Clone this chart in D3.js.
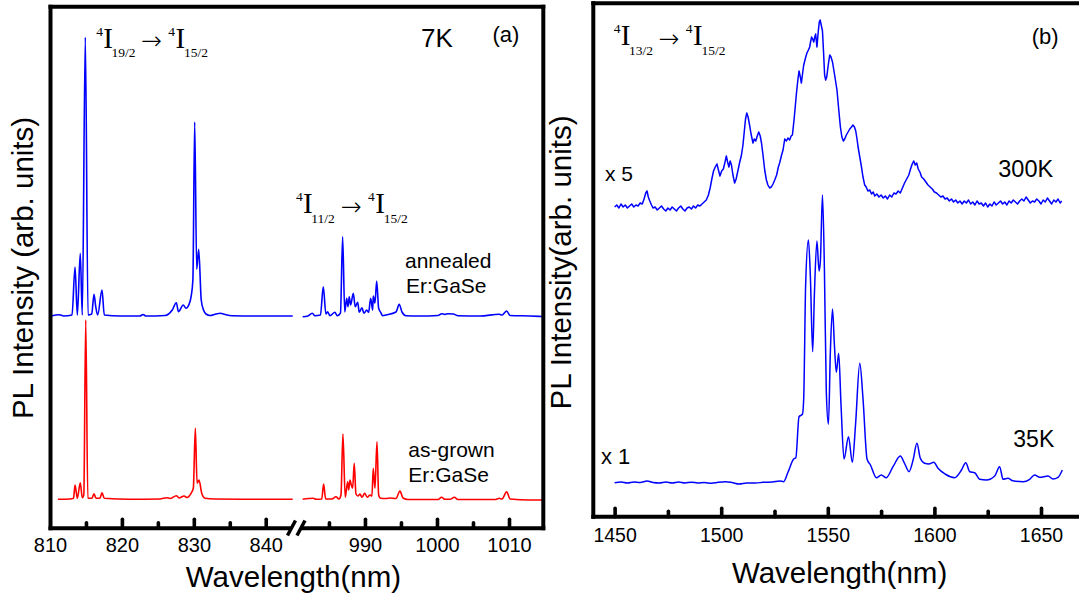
<!DOCTYPE html>
<html><head><meta charset="utf-8">
<script src="https://cdn.jsdelivr.net/npm/d3@7"></script>
<style>body{margin:0;background:#fff}svg{display:block}</style>
</head><body><svg id="c" width="1079" height="600"></svg>
<script>
// ---------- Panel (a) data: [wavelength nm, intensity arb.] ----------
const annealedLeft = [[810.14,212],[811.28,213.3],[811.9,212],[813.06,213],[813.48,261],[813.8,213],[814.21,274.7],[814.49,213],[814.91,490.7],[815.29,213],[815.8,214],[816.12,233.7],[816.36,221.3],[816.63,213],[817.23,238],[817.55,213],[819.74,212],[822.5,212],[822.93,213.5],[823.35,212],[826,212.5],[827.0,218],[827.57,225.3],[827.86,216.3],[828.53,223],[828.92,219.7],[829.29,223],[829.62,231.3],[829.87,248],[830.12,406],[830.4,258.7],[830.68,278.7],[831.03,228],[831.35,218],[831.7,214],[832.25,212.5],[833.09,214],[833.7,214.7],[834.34,213.5],[835.3,212.3],[839.2,212],[843.75,212]];
const annealedRight = [[981.35,211.3],[982.08,212],[982.68,214.7],[983.06,212.3],[983.82,213],[984.21,241.3],[984.58,214],[984.82,216.3],[985.14,212.3],[985.83,215.7],[986.15,212.3],[986.6,215],[986.9,291.3],[987.19,216],[987.46,229.7],[987.64,221.3],[987.82,231.3],[988.01,223],[988.38,234.7],[988.65,221.3],[988.99,225.7],[989.21,215.7],[989.58,220.3],[989.86,214.7],[990.24,218],[990.51,215.7],[990.79,229.7],[991.07,218],[991.15,232],[991.39,225],[991.63,247],[991.9,219.7],[992.18,215.7],[992.46,212.3],[992.92,213],[994.31,216],[994.76,223.7],[995.14,216],[995.69,212.3],[997.64,212],[1000.14,212.5],[1000.65,214.3],[1001.1,213.5],[1001.53,214.3],[1002.26,214],[1002.92,212.3],[1005.97,212],[1008.65,213.7],[1009.03,213],[1009.68,217],[1010.14,212.5],[1012.92,212],[1014.72,211.5]];
const asGrownLeft = [[811.1,28.7],[812.78,29],[813.27,29.7],[813.48,43],[813.8,29.7],[814.21,45.3],[814.49,30.3],[814.7,33],[814.97,208],[815.26,29.7],[815.84,29.7],[816.12,34.3],[816.4,29.7],[816.95,29.7],[817.23,35.3],[817.55,29.7],[821.13,28.7],[825.3,29],[826.23,30.3],[826.69,29.5],[827.57,32.3],[827.94,30],[828.64,32],[829.05,30.5],[829.61,34.7],[829.93,39.7],[830.21,99.7],[830.45,44.7],[830.72,48],[831.1,34.7],[831.56,29.7],[832.95,29],[837.82,28.7],[843.75,28.7]];
const asGrownRight = [[981.35,28.7],[982.82,29.7],[983.2,28.7],[984.0,29],[984.26,44],[984.54,29],[985.42,29],[985.97,31.3],[986.39,29],[986.67,33],[986.94,94],[987.26,30.7],[987.6,46.3],[987.74,38],[987.92,48],[988.1,43],[988.29,39.7],[988.51,64.7],[988.75,34],[989.03,32],[989.31,34],[989.58,30.7],[989.96,34.7],[990.32,30.7],[990.69,33],[990.97,32],[991.15,59.7],[991.39,39.7],[991.67,86.3],[991.9,33],[992.18,29.7],[992.92,29.5],[993.47,30],[994.31,29.5],[994.86,37],[995.28,30],[995.97,28.5],[1000.14,28.5],[1000.65,30.7],[1001.1,28.7],[1001.81,28.7],[1002.4,30.7],[1002.92,28.5],[1008.06,28.5],[1008.65,29.7],[1009.03,29],[1009.68,36.3],[1010.14,29],[1012.92,28],[1014.72,28]];

// ---------- Panel (b) data ----------
const spec300K = [[1450,310],[1451,312],[1452,309],[1453,313],[1454,310],[1455,312],[1456,309],[1457,311],[1458,313],[1459,310],[1460,312],[1461,311],[1462,314],[1463,313],[1463.8,318],[1464.6,324],[1465.2,326],[1465.8,320],[1466.5,316],[1467.3,312],[1468,309],[1469,310],[1470,307],[1471,309],[1472,311],[1473,308],[1474,306],[1475,309],[1476,307],[1477,310],[1478,308],[1479,306],[1480,309],[1481,311],[1482,308],[1483,306],[1484,309],[1485,310],[1486,308],[1487,311],[1488,309],[1489,312],[1490,311],[1491,313],[1492,315],[1493,317],[1494,322],[1494.8,329],[1495.6,338],[1496.4,346],[1497.2,350],[1498,353],[1498.7,347],[1499.4,341],[1500.2,346],[1501,348],[1501.8,355],[1502.4,361],[1503,355],[1503.6,350],[1504.2,356],[1504.8,352],[1505.5,342],[1506.3,334],[1507,338],[1507.9,347],[1508.7,355],[1509.5,362],[1510.2,372],[1510.8,385],[1511.4,398],[1512,404],[1512.6,400],[1513.3,392],[1514,383],[1514.9,374],[1515.5,378],[1516.2,376],[1516.9,381],[1517.6,385],[1518.3,381],[1518.9,374],[1519.6,362],[1520.4,347],[1521.2,337],[1521.9,332],[1522.7,329],[1523.5,330],[1524.3,333],[1525.1,337],[1526,342],[1526.8,350],[1527.4,354],[1528.2,361],[1529,367],[1529.8,378],[1530.6,376],[1531.3,379],[1532.1,377],[1532.8,381],[1533.4,382],[1534.2,398],[1534.8,412],[1535.3,424],[1536,438],[1536.5,446],[1537.1,440],[1537.6,434],[1538.2,444],[1538.7,452],[1539.4,458],[1540.2,464],[1540.9,467],[1541.5,470],[1542,476],[1542.4,480],[1542.9,478],[1543.4,475],[1543.9,480],[1544.3,483],[1544.9,470],[1545.5,485],[1546,495],[1546.4,497],[1546.9,492],[1547.5,486],[1548,465],[1548.5,442],[1549,437],[1549.5,440],[1550.2,452],[1550.9,462],[1551.5,460],[1552.2,455],[1553.2,442],[1554.3,427],[1555.1,408],[1555.9,390],[1556.6,380],[1557.3,376],[1557.9,378],[1558.7,382],[1559.5,385],[1560.3,388],[1561.1,390],[1561.8,392],[1562.5,390],[1563.1,386],[1563.7,378],[1564.2,370],[1565,360],[1565.8,350],[1566.5,340],[1567.3,332],[1568,330],[1568.8,326],[1569.7,327],[1570.5,323],[1571.3,325],[1572,321],[1573,323],[1574,320],[1575,322],[1576,319],[1577,321],[1578,318],[1579,322],[1580,320],[1581,324],[1582,323],[1583,326],[1584,324],[1585,329],[1586,334],[1587,338],[1588,342],[1588.8,348],[1589.6,353],[1590.3,356],[1591,352],[1591.7,354],[1592.4,348],[1593.2,345],[1594,340],[1595,338],[1596,335],[1597,332],[1598,330],[1599,328],[1600,325],[1601,324],[1602,322],[1603,320],[1604,321],[1605,318],[1606,319],[1607,316],[1608,318],[1609,315],[1610,317],[1611,314],[1612,316],[1613,313],[1614,316],[1615,314],[1616,317],[1617,313],[1618,315],[1619,312],[1620,316],[1621,313],[1622,314],[1623,311],[1624,314],[1625,310],[1626,313],[1627,311],[1628,315],[1629,312],[1630,314],[1631,316],[1632,313],[1633,315],[1634,312],[1635,316],[1636,314],[1637,317],[1638,315],[1639,313],[1640,316],[1641,318],[1642,316],[1643,320],[1644,317],[1645,314],[1646,316],[1647,315],[1648,318],[1649,316],[1650,313],[1651,317],[1652,315],[1653,319],[1654,316],[1655,313],[1656,317],[1657,315],[1658,318],[1659,314],[1659.7,316]];
const spec35K = [[1450,34.3],[1453,35],[1456,34],[1459,35],[1462,34.5],[1465.2,36],[1468,34.5],[1471,34],[1474,35],[1477,34],[1480,35],[1483,34],[1486,34.8],[1489,34],[1492,34.5],[1495.5,33.7],[1498,34.5],[1501.9,35.3],[1505,34.5],[1508.4,33],[1512,34],[1516,34],[1519.7,34.7],[1524,35],[1527.4,36],[1529.3,35.3],[1531.3,44.7],[1534,58],[1535,59.3],[1536.5,100.3],[1538.1,102.7],[1538.7,118.7],[1539.6,232],[1540.9,277],[1541.8,242],[1542.9,165.3],[1543.7,222],[1544.9,276],[1545.9,246],[1546.5,255.3],[1547.5,322],[1548.4,248.7],[1549.3,125.3],[1550.3,92.7],[1551.2,165.3],[1552.2,208],[1553.1,172],[1554,144.7],[1555.1,163.7],[1556.2,112],[1557.6,58],[1559.7,80.3],[1561.5,54.7],[1563,92],[1565,153.7],[1566.5,118.7],[1568.4,58],[1570,52],[1572.8,39.3],[1575.1,42],[1577.4,39.3],[1580.6,50.3],[1584,61],[1586,53.7],[1588.1,45.3],[1590,57],[1591.8,73.7],[1593.4,58.7],[1595.4,53.7],[1597.4,53],[1599.7,54.7],[1601.7,48.7],[1605,43],[1609.5,39.3],[1612.7,47],[1614.7,54.3],[1616.6,45.3],[1618.9,44.3],[1621.2,37.7],[1624.4,37],[1628.3,41],[1630.6,50.3],[1632.2,37.7],[1634.5,38.7],[1636.8,36.3],[1641.6,35.3],[1644.7,37.7],[1647,42],[1649.4,39.7],[1653.3,41],[1655.6,38],[1658,39.7],[1660,47]];

// ---------- ticks ----------
const ticksA1Major = [820, 830, 840];
const ticksA1Minor = [815, 825, 835];
const labelsA1 = [810, 820, 830, 840];
const ticksA2Major = [990, 1000, 1010];
const ticksA2Minor = [985, 995, 1005];
const labelsA2 = [990, 1000, 1010];
const ticksBMajor = [1450, 1500, 1550, 1600, 1650];
const ticksBMinor = [1475, 1525, 1575, 1625];

const SANS = '"Liberation Sans", Arial, Helvetica, sans-serif';
const SERIF = '"Liberation Serif", "Times New Roman", serif';
const BLUE = "#0000ff", RED = "#ff0000";

const svg = d3.select("#c");
svg.append("rect").attr("width", 1079).attr("height", 600).attr("fill", "#fff");

const xA1 = d3.scaleLinear().domain([810, 843.75]).range([50, 292.7]);
const xA2 = d3.scaleLinear().domain([981.3, 1014.72]).range([302.3, 543]);
const yA = d3.scaleLinear().domain([0, 521]).range([528, 7]);
const xB = d3.scaleLinear().domain([1440, 1672]).range([593.3, 1087.9]);
const yB = d3.scaleLinear().domain([0, 514]).range([517, 3]);

function curve(data, x, y, color, w, c) {
  svg.append("path").datum(data)
    .attr("d", d3.line().curve(c || d3.curveLinear).x(d => x(d[0])).y(d => y(d[1])))
    .attr("fill", "none").attr("stroke", color).attr("stroke-width", w)
    .attr("stroke-linejoin", "round");
}
curve(annealedLeft, xA1, yA, BLUE, 1.6, d3.curveMonotoneX);
curve(annealedRight, xA2, yA, BLUE, 1.6, d3.curveMonotoneX);
curve(asGrownLeft, xA1, yA, RED, 1.6, d3.curveMonotoneX);
curve(asGrownRight, xA2, yA, RED, 1.6, d3.curveMonotoneX);
curve(spec300K, xB, yB, BLUE, 1.5);
curve(spec35K, xB, yB, BLUE, 1.5, d3.curveMonotoneX);

// ---------- frames ----------
function seg(x1, y1, x2, y2, w) {
  svg.append("line").attr("x1", x1).attr("y1", y1).attr("x2", x2).attr("y2", y2)
    .attr("stroke", "#000").attr("stroke-width", w).attr("stroke-linecap", "square");
}
const fw = 4;
// panel a
seg(50.5, 6.7, 543.3, 6.7, fw);
seg(50.5, 6.7, 50.5, 528.3, fw);
seg(543.3, 6.7, 543.3, 528.3, fw);
seg(50.5, 528.3, 290, 528.3, fw);
seg(303, 528.3, 543.3, 528.3, fw);
svg.append("line").attr("x1", 287.5).attr("y1", 535.5).attr("x2", 295.5).attr("y2", 520.5)
  .attr("stroke", "#000").attr("stroke-width", 3.5);
svg.append("line").attr("x1", 297).attr("y1", 535.5).attr("x2", 305).attr("y2", 520.5)
  .attr("stroke", "#000").attr("stroke-width", 3.5);
// panel b
seg(593.3, 3.3, 1090, 3.3, fw);
seg(593.3, 3.3, 593.3, 516.7, fw);
seg(593.3, 516.7, 1090, 516.7, fw);

// ---------- ticks via d3 axes ----------
function tickMarks(scale, vals, len, yPos, w) {
  const g = svg.append("g").attr("transform", `translate(0,${yPos})`)
    .call(d3.axisBottom(scale).tickValues(vals).tickSize(-len).tickFormat(""));
  g.select(".domain").remove();
  g.selectAll(".tick line").attr("stroke", "#000").attr("stroke-width", w).attr("stroke-linecap", "round");
}
tickMarks(xA1, ticksA1Major, 9, 528.3, 3.6);
tickMarks(xA1, ticksA1Minor, 5.5, 528.3, 3.6);
tickMarks(xA2, ticksA2Major, 9, 528.3, 3.6);
tickMarks(xA2, ticksA2Minor, 5.5, 528.3, 3.6);
tickMarks(xB, ticksBMajor, 8.5, 516.7, 3.6);
tickMarks(xB, ticksBMinor, 5.5, 516.7, 3.6);

function tickLabels(scale, vals, yPos, baseline, size) {
  const g = svg.append("g").attr("transform", `translate(0,${yPos})`)
    .call(d3.axisBottom(scale).tickValues(vals).tickSize(0).tickFormat(d3.format("d")));
  g.select(".domain").remove();
  g.selectAll(".tick text").attr("y", baseline).attr("dy", 0)
    .attr("font-family", SANS).attr("font-size", size).attr("fill", "#000");
}
tickLabels(xA1, labelsA1, 528.3, 23.4, 20);
tickLabels(xA2, labelsA2, 528.3, 23.4, 20);
tickLabels(xB, ticksBMajor, 516.7, 25, 19.5);

// ---------- titles ----------
function txt(x, y, s, size, opts = {}) {
  const t = svg.append("text").attr("x", x).attr("y", y).text(s)
    .attr("font-family", opts.family || SANS).attr("font-size", size).attr("fill", "#000");
  if (opts.anchor) t.attr("text-anchor", opts.anchor);
  return t;
}
txt(293.5, 587, "Wavelength(nm)", 29.5, {anchor: "middle"});
txt(839.6, 583.3, "Wavelength(nm)", 29.5, {anchor: "middle"});
svg.append("text").attr("transform", "translate(33,268) rotate(-90)")
  .attr("text-anchor", "middle").attr("font-family", SANS).attr("font-size", 29.5)
  .text("PL Intensity (arb. units)");
svg.append("text").attr("transform", "translate(570.5,262.5) rotate(-90)")
  .attr("text-anchor", "middle").attr("font-family", SANS).attr("font-size", 29.5)
  .text("PL Intensity(arb. units)");

// annotations
txt(421, 46.7, "7K", 26);
txt(492.4, 42.4, "(a)", 22);
txt(1031.7, 43.8, "(b)", 22);
txt(405, 268.3, "annealed", 21);
txt(406, 293.3, "Er:GaSe", 21);
txt(408.3, 456.7, "as-grown", 21);
txt(408.3, 481.7, "Er:GaSe", 21);
txt(605, 180.5, "x 5", 21);
txt(998.3, 176.7, "300K", 23.5);
txt(601, 464, "x 1", 22);
txt(1013.3, 446.7, "35K", 23);

// transition labels  4I(lower) -> 4I(15/2)
function transition(x0, yb, lower) {
  const g = svg.append("g").attr("font-family", SERIF).attr("fill", "#000");
  g.append("text").attr("x", x0 - 7).attr("y", yb - 12).attr("font-size", 13.5).text("4");
  g.append("text").attr("x", x0).attr("y", yb).attr("font-size", 29).text("I");
  g.append("text").attr("x", x0 + 8.2).attr("y", yb + 9.5).attr("font-size", 13.5).text(lower);
  g.append("text").attr("x", x0 + 37.5).attr("y", yb + 1.5).attr("font-size", 25)
    .attr("font-family", '"DejaVu Sans", sans-serif').attr("font-weight", 300).text("\u2192");
  g.append("text").attr("x", x0 + 65).attr("y", yb - 12).attr("font-size", 13.5).text("4");
  g.append("text").attr("x", x0 + 72.3).attr("y", yb).attr("font-size", 29).text("I");
  g.append("text").attr("x", x0 + 80.7).attr("y", yb + 9.5).attr("font-size", 13.5).text("15/2");
}
transition(103.3, 47.5, "19/2");
transition(303, 213.3, "11/2");
transition(620.7, 45, "13/2");
</script></body></html>
